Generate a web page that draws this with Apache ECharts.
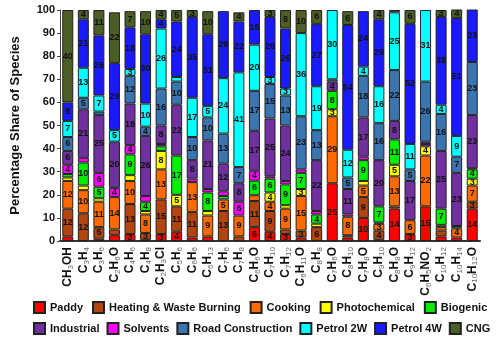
<!DOCTYPE html>
<html>
<head>
<meta charset="utf-8">
<script src="https://cdn.jsdelivr.net/npm/echarts@6/dist/echarts.min.js"></script>
<style>
  html, body { margin: 0; padding: 0; background: #fff; }
  #chart { width: 500px; height: 340px; }
</style>
</head>
<body>
<div id="chart"></div>
<script>
// species, left to right
const species = ['CH3OH', 'C3H4', 'C3H6', 'C2H6O', 'C4H6', 'C4H8', 'C2H3Cl', 'C5H6', 'C6H6', 'C6H13',
  'C7H6', 'C7H8', 'C6H6O', 'C7H10', 'C7H12', 'C6H11O', 'C8H8', 'C7H6O', 'C8H10', 'C7H8O',
  'C9H10', 'C8H8O', 'C9H12', 'C6H5NO2', 'C10H12', 'C10H14', 'C10H12O']

// percentage share per source (stack order, bottom to top)
const paddy      = [2, 0, 1, 2.5, 3, 0.5, 3, 4, 1.5, 2, 0, 0, 6, 4, 3, 1.5, 0, 25, 1.5, 10, 0.5, 14, 3, 15, 2, 1.5, 14]
const heating    = [12, 12, 5, 2.5, 13, 3, 15, 11, 11, 0, 13, 2, 11.3, 9, 2, 3, 6, 0, 1, 9, 4, 1, 0, 0, 2.5, 0, 3]
const cooking    = [12, 10, 11, 14, 10, 8, 13, 0, 13, 9, 5, 9, 2.5, 4, 9, 15, 0, 29, 8, 5, 3, 13, 6, 22, 1.5, 4, 7]
const photochem  = [1.5, 2, 1.5, 0, 2.5, 1.5, 8, 5, 0, 2, 0, 0, 0, 4, 1.5, 3, 1.5, 3, 0, 2, 0.5, 5, 0, 4, 1, 0, 3]
const biogenic   = [1.5, 10, 5, 0, 9, 4, 2, 17, 0, 8, 1.5, 0, 6.3, 6, 9, 7, 4, 8, 0, 9, 7, 11, 0, 0, 7, 1, 4]
const solvents   = [4, 2, 6, 4, 4, 2.5, 1, 0, 1.5, 1.5, 2, 6, 4.3, 1, 1.5, 1.5, 1.5, 0, 1, 1.5, 0, 0, 0, 1, 0, 0, 0.5]
const industrial = [6, 21, 25, 20, 18, 26, 8, 22, 8, 21, 12, 8, 17.3, 25, 24, 0, 22, 4, 11, 17, 20, 8, 17, 1, 25, 23, 23]
const road       = [6, 5, 1.5, 0, 12, 4, 16, 10, 10, 10, 13, 7, 17.3, 15, 13, 23, 13, 1, 5, 18, 16, 22, 5, 26, 16, 7, 23]
const petrol2w   = [7, 13, 7, 5, 3, 10, 26, 2, 17, 5, 24, 41, 20, 3, 3, 36, 19, 30, 12, 4, 16, 25, 11, 31, 4, 9, 0]
const petrol4w   = [8, 21, 26, 29, 18, 30, 4, 24, 35, 31, 29, 22, 15, 26, 26, 0, 27, 0, 54, 24, 29, 0, 52, 0, 38, 51, 23]
const cng        = [40, 4, 11, 22, 7, 10, 4, 5, 3, 10, 0, 4, 0, 3, 8, 10, 6, 0, 6, 0, 4, 1, 6, 0, 3, 4, 0]

const yTicks = [0, 10, 20, 30, 40, 50, 60, 70, 80, 90, 100]

const sources = [
  { name: 'Paddy', data: paddy, color: '#ff0000' },
  { name: 'Heating & Waste Burning', data: heating, color: '#b3440f' },
  { name: 'Cooking', data: cooking, color: '#ff6a00' },
  { name: 'Photochemical', data: photochem, color: '#ffff00' },
  { name: 'Biogenic', data: biogenic, color: '#00ee00' },
  { name: 'Solvents', data: solvents, color: '#ff00ff' },
  { name: 'Industrial', data: industrial, color: '#7030a0' },
  { name: 'Road Construction', data: road, color: '#3a75b2' },
  { name: 'Petrol 2W', data: petrol2w, color: '#00ffff' },
  { name: 'Petrol 4W', data: petrol4w, color: '#1a1aff' },
  { name: 'CNG', data: cng, color: '#4b5e26' },
]

const legendRow1 = ['Paddy', 'Heating & Waste Burning', 'Cooking', 'Photochemical', 'Biogenic']
const legendRow2 = ['Industrial', 'Solvents', 'Road Construction', 'Petrol 2W', 'Petrol 4W', 'CNG']

const font = 'Arial, "Liberation Sans", sans-serif'

// chemical formula -> rich text with subscript digits
function formula(s) {
  return s.replace(/(\d+)|([^\d]+)/g, (m, d, t) => d ? `{s|${d}}` : `{m|${t}}`)
}

const legendBase = {
  left: 28,
  itemWidth: 11,
  itemHeight: 11,
  icon: 'rect',
  selectedMode: false,
  textStyle: { fontFamily: font, fontWeight: 'bold', fontSize: 11, color: '#111' },
}

const chart = echarts.init(document.getElementById('chart'))
chart.setOption({
  animation: false,
  grid: { left: 60, right: 20, top: 10, bottom: 99 },
  legend: [
    { ...legendBase, data: legendRow1, top: 296, itemGap: 9 },
    { ...legendBase, data: legendRow2, top: 317, itemGap: 7 },
  ],
  xAxis: {
    type: 'category',
    data: species,
    axisLine: { lineStyle: { color: '#333', width: 2 } },
    axisTick: { show: false },
    axisLabel: {
      interval: 0,
      rotate: 90,
      margin: 6,
      formatter: v => formula(v),
      rich: {
        m: { fontFamily: font, fontWeight: 'bold', fontSize: 12, color: '#111', lineHeight: 14 },
        s: { fontFamily: font, fontSize: 8, color: '#666', lineHeight: 14, verticalAlign: 'bottom' },
      },
    },
  },
  yAxis: {
    type: 'value',
    min: yTicks[0],
    max: yTicks[yTicks.length - 1],
    interval: 10,
    name: 'Percentage Share of Species',
    nameLocation: 'middle',
    nameGap: 38,
    nameTextStyle: { fontFamily: font, fontWeight: 'bold', fontSize: 13, color: '#111' },
    axisLine: { show: true, lineStyle: { color: '#444' } },
    axisTick: { show: true, length: 3, lineStyle: { color: '#444' } },
    splitLine: { show: false },
    axisLabel: { fontFamily: font, fontWeight: 'bold', fontSize: 11, color: '#111', margin: 5 },
  },
  series: sources.map(src => ({
    name: src.name,
    type: 'bar',
    stack: 'share',
    barWidth: 11,
    data: src.data.map(v => v || '-'),
    itemStyle: { color: src.color, borderColor: '#222', borderWidth: 1 },
    label: {
      show: true,
      position: 'inside',
      fontFamily: font,
      fontWeight: 'bold',
      fontSize: 9,
      color: '#111',
      formatter: p => (p.value >= 3 ? Math.round(p.value) : ''),
    },
  })),
})
</script>
</body>
</html>
